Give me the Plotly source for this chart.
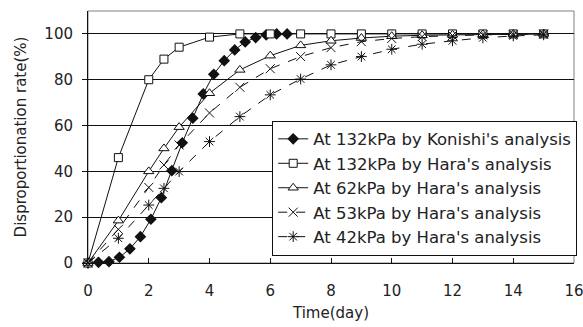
import plotly.graph_objects as go

# Konishi analysis (132 kPa), sampled about every 1/3 day
konishi_day = [0, 0.345, 0.69, 1.035, 1.38, 1.725, 2.07, 2.415, 2.76, 3.105,
               3.45, 3.795, 4.14, 4.485, 4.83, 5.175, 5.52, 5.865, 6.21, 6.555]
konishi_132 = [0, 0.3, 0.6, 2.5, 6.2, 11.5, 19.1, 28.5, 40.3, 52.5,
               63.2, 73.8, 82.4, 88.3, 93.0, 96.5, 98.4, 99.6, 100, 100]

# Hara analysis at several pressures
hara_day = [0, 1, 2, 2.5, 3, 4, 5, 6, 7, 8, 9, 10, 11, 12, 13, 14, 15]
hara_132 = [0, 46, 80, 89, 94.2, 98.6, 100, 100, 100, 100, 100, 100, 100, 100, 100, 100, 100]
hara_62 = [0, 18.5, 40, 50, 59.3, 74.1, 84.3, 90.5, 95, 97, 98.2, 99, 99.4, 99.6, 99.8, 99.9, 100]
hara_53 = [0, 14.7, 33, 42.8, 51.5, 65.5, 76.7, 84.8, 90.1, 94, 96.6, 98, 98.8, 99.3, 99.6, 99.8, 100]
hara_42 = [0, 10.8, 25.3, 32.6, 39.9, 53, 63.9, 73.4, 80.3, 86.5, 90.1, 93.3, 95.5, 97, 98.3, 99.1, 99.6]

x_ticks = [0, 2, 4, 6, 8, 10, 12, 14, 16]
y_ticks = [0, 20, 40, 60, 80, 100]

FONT = "DejaVu Sans"
INK = "#111111"

series = [
    ("At 132kPa by Konishi's analysis", konishi_day, konishi_132,
     dict(symbol="diamond", size=9, color=INK, line=dict(width=0)), "solid"),
    ("At 132kPa by Hara's analysis", hara_day, hara_132,
     dict(symbol="square", size=8, color="white", line=dict(color=INK, width=1)), "solid"),
    ("At 62kPa by Hara's analysis", hara_day, hara_62,
     dict(symbol="triangle-up", size=9, color="white", line=dict(color=INK, width=1)), "solid"),
    ("At 53kPa by Hara's analysis", hara_day, hara_53,
     dict(symbol="x-thin", size=9, color=INK, line=dict(color=INK, width=1)), "dash"),
    ("At 42kPa by Hara's analysis", hara_day, hara_42,
     dict(symbol="asterisk-open", size=9, color=INK, line=dict(color=INK, width=1)), "dash"),
]

fig = go.Figure()
for i, (name, xs, ys, marker, dash) in enumerate(series):
    fig.add_trace(go.Scatter(
        x=xs, y=ys, name=name, mode="lines+markers",
        line=dict(color=INK, width=1, dash=dash),
        marker=marker, cliponaxis=False, legendgroup=f"g{i}",
    ))

fig.update_layout(
    width=583, height=327,
    margin=dict(l=88, r=9, t=11, b=64, autoexpand=False),
    paper_bgcolor="white", plot_bgcolor="white",
    font=dict(family=FONT, size=15, color="#222222"),
    showlegend=True,
    legend=dict(
        x=0.379, xanchor="left", y=0.565, yanchor="top",
        bgcolor="white", bordercolor=INK, borderwidth=1,
        font=dict(family=FONT, size=16.5, color="#222222"),
        tracegroupgap=0, itemwidth=30,
    ),
    xaxis=dict(
        range=[0, 16], tickvals=x_ticks, showgrid=False, zeroline=False,
        showline=True, linecolor=INK, linewidth=1,
        ticks="inside", ticklen=5, tickcolor=INK,
        ticklabelstandoff=14, ticklabeloverflow="allow",
        title=dict(text="Time(day)", standoff=8, font=dict(size=15)),
    ),
    yaxis=dict(
        range=[0, 110], tickvals=y_ticks, showgrid=True, gridcolor=INK, gridwidth=1,
        zeroline=False, showline=True, linecolor=INK, linewidth=1,
        ticks="outside", ticklen=5, tickcolor=INK,
        ticklabelstandoff=6,
        title=dict(text="Disproportionation rate(%)", standoff=14, font=dict(size=15)),
    ),
    shapes=[dict(type="rect", xref="paper", yref="paper", x0=0, y0=0, x1=1, y1=1,
                 line=dict(color="#808080", width=1), layer="below")],
)

fig.write_html("out.html")
